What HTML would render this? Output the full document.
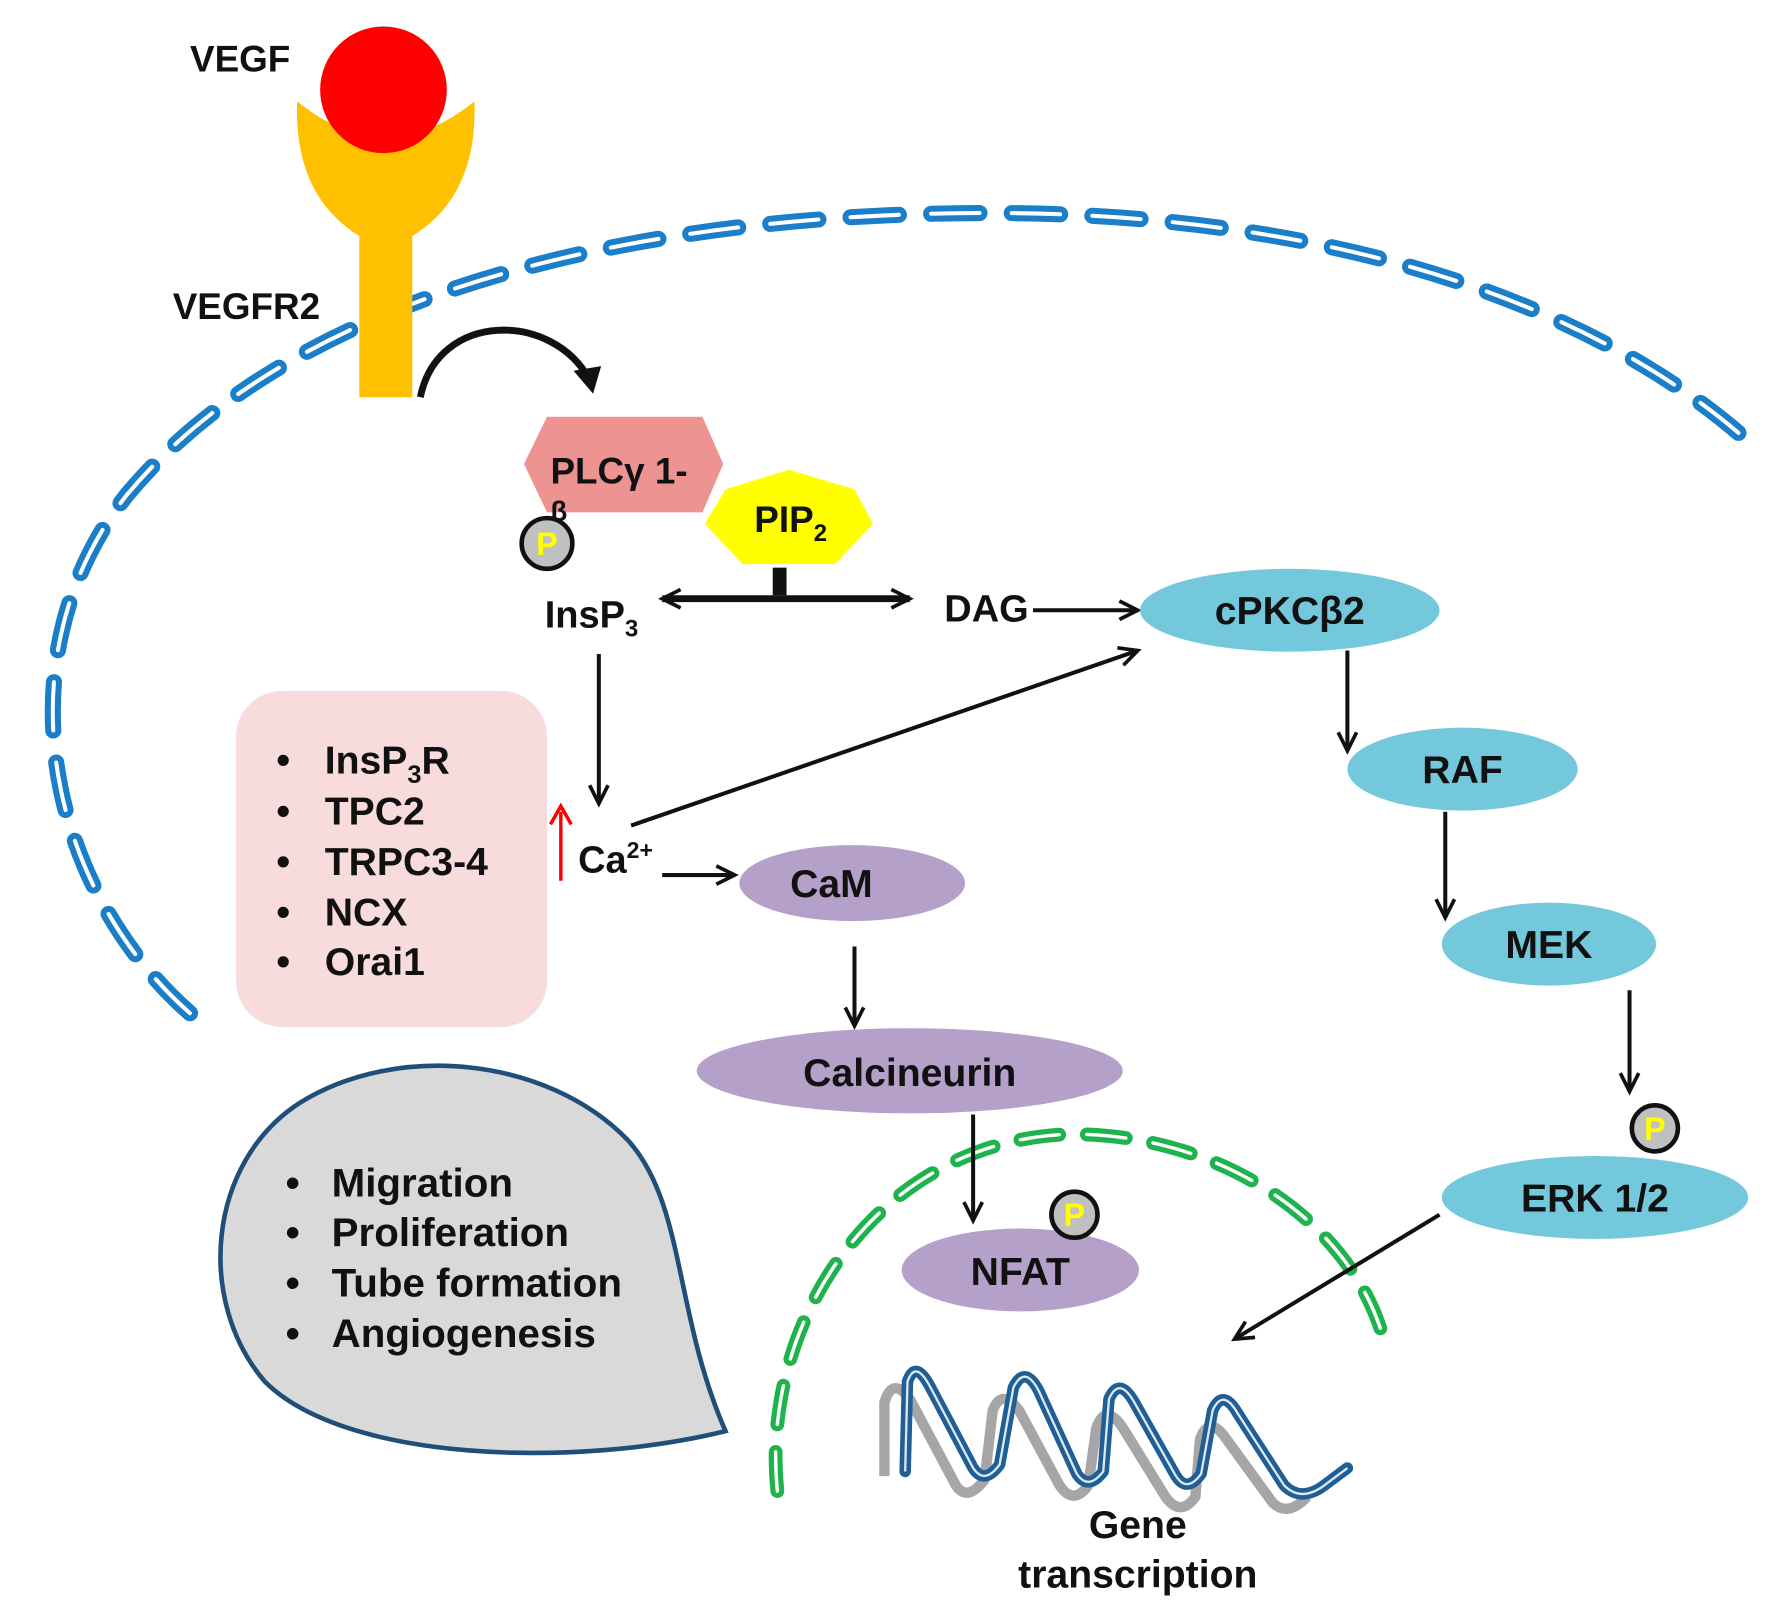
<!DOCTYPE html>
<html><head><meta charset="utf-8"><style>
html,body{margin:0;padding:0;background:#fff}
svg{display:block}
text{font-family:"Liberation Sans",Arial,sans-serif;font-weight:bold;fill:#111}
</style></head><body>
<svg width="1785" height="1620" viewBox="0 0 1550 1407" preserveAspectRatio="none" xmlns="http://www.w3.org/2000/svg">
<defs>
<marker id="ah" viewBox="0 0 10 10" refX="9" refY="5" markerWidth="20" markerHeight="20" orient="auto-start-reverse" markerUnits="userSpaceOnUse" style="overflow:visible">
<path d="M1,1 L9,5 L1,9" fill="none" stroke="#111" stroke-width="1.6"/>
</marker>
</defs>
<rect width="1550" height="1407" fill="#fff"/>
<path d="M165,880 C40,770 0,570 110,430 C260,250 560,185 860,185 C1150,185 1380,260 1520,385" fill="none" stroke="#1a7fc8" stroke-width="14" stroke-dasharray="42 28" stroke-linecap="round"/>
<path d="M165,880 C40,770 0,570 110,430 C260,250 560,185 860,185 C1150,185 1380,260 1520,385" fill="none" stroke="#fff" stroke-width="3.5" stroke-dasharray="42 28" stroke-linecap="round"/>
<path d="M258,88 Q335,150 412,88 Q415,170 358,205 L358,345 L312,345 L312,205 Q255,170 258,88 Z" fill="#ffc000"/>
<circle cx="333" cy="78" r="55" fill="#ff0000"/>
<text x="165" y="62" font-size="32">VEGF</text>
<text x="150" y="277" font-size="32">VEGFR2</text>
<path d="M365,345 C380,270 480,270 512,330" fill="none" stroke="#111" stroke-width="6"/>
<path d="M498,322 L515,342 L522,318 Z" fill="#111"/>
<polygon points="455,403 475,362 610,362 628,403 610,445 475,445" fill="#ed9391"/>
<text x="478" y="420" font-size="32">PLCγ 1-</text>
<text x="478" y="452" font-size="24">β</text>
<circle cx="475" cy="472" r="22" fill="#c0c0c0" stroke="#111" stroke-width="4"/>
<text x="475" y="482" font-size="28" text-anchor="middle" style="fill:#ffff00">P</text>
<polygon points="685,408 742,425 758,455 725,490 645,490 612,455 630,425" fill="#ffff00"/>
<text x="655" y="462" font-size="32">PIP<tspan font-size="21" dy="8">2</tspan></text>
<rect x="671" y="493" width="12" height="24" fill="#111"/>
<line x1="575" y1="520" x2="790" y2="520" stroke="#111" stroke-width="6" marker-start="url(#ah)" marker-end="url(#ah)"/>
<text x="473" y="545" font-size="33">InsP<tspan font-size="21" dy="8">3</tspan></text>
<text x="820" y="540" font-size="33">DAG</text>
<line x1="897" y1="530" x2="988" y2="530" stroke="#111" stroke-width="3.5" marker-end="url(#ah)"/>
<ellipse cx="1120" cy="530" rx="130" ry="36" fill="#74c8dc"/>
<text x="1120" y="542" font-size="34" text-anchor="middle">cPKCβ2</text>
<line x1="1170" y1="565" x2="1170" y2="652" stroke="#111" stroke-width="3.5" marker-end="url(#ah)"/>
<ellipse cx="1270" cy="668" rx="100" ry="36" fill="#74c8dc"/>
<text x="1270" y="680" font-size="34" text-anchor="middle">RAF</text>
<line x1="1255" y1="705" x2="1255" y2="797" stroke="#111" stroke-width="3.5" marker-end="url(#ah)"/>
<ellipse cx="1345" cy="820" rx="93" ry="36" fill="#74c8dc"/>
<text x="1345" y="832" font-size="34" text-anchor="middle">MEK</text>
<line x1="1415" y1="860" x2="1415" y2="948" stroke="#111" stroke-width="3.5" marker-end="url(#ah)"/>
<ellipse cx="1385" cy="1040" rx="133" ry="36" fill="#74c8dc"/>
<text x="1385" y="1052" font-size="34" text-anchor="middle">ERK 1/2</text>
<circle cx="1437" cy="980" r="20" fill="#c0c0c0" stroke="#111" stroke-width="4"/>
<text x="1437" y="990" font-size="28" text-anchor="middle" style="fill:#ffff00">P</text>
<line x1="520" y1="568" x2="520" y2="698" stroke="#111" stroke-width="3.5" marker-end="url(#ah)"/>
<rect x="205" y="600" width="270" height="292" rx="40" fill="#f8dbdb"/>
<g font-size="34">
<text x="240" y="672">•</text><text x="282" y="672">InsP<tspan font-size="22" dy="8">3</tspan><tspan dy="-8">R</tspan></text>
<text x="240" y="716">•</text><text x="282" y="716">TPC2</text>
<text x="240" y="760">•</text><text x="282" y="760">TRPC3-4</text>
<text x="240" y="804">•</text><text x="282" y="804">NCX</text>
<text x="240" y="847">•</text><text x="282" y="847">Orai1</text>
</g>
<line x1="487" y1="765" x2="487" y2="705" stroke="#ff0000" stroke-width="3"/>
<path d="M478,716 L487,700 L496,716" fill="none" stroke="#ff0000" stroke-width="3"/>
<text x="502" y="758" font-size="33">Ca<tspan font-size="20" dy="-13">2+</tspan></text>
<line x1="548" y1="717" x2="988" y2="565" stroke="#111" stroke-width="3.5" marker-end="url(#ah)"/>
<line x1="575" y1="760" x2="638" y2="760" stroke="#111" stroke-width="3.5" marker-end="url(#ah)"/>
<ellipse cx="740" cy="767" rx="98" ry="33" fill="#b5a0c9"/>
<text x="722" y="779" font-size="34" text-anchor="middle">CaM</text>
<line x1="742" y1="822" x2="742" y2="891" stroke="#111" stroke-width="3.5" marker-end="url(#ah)"/>
<ellipse cx="790" cy="930" rx="185" ry="37" fill="#b5a0c9"/>
<text x="790" y="943" font-size="34" text-anchor="middle">Calcineurin</text>
<path d="M675,1295 C660,1150 760,990 930,985 C1060,985 1170,1060 1200,1158" fill="none" stroke="#1fb34d" stroke-width="12" stroke-dasharray="34 24" stroke-linecap="round"/>
<path d="M675,1295 C660,1150 760,990 930,985 C1060,985 1170,1060 1200,1158" fill="none" stroke="#fff" stroke-width="3" stroke-dasharray="34 24" stroke-linecap="round"/>
<line x1="845" y1="968" x2="845" y2="1060" stroke="#111" stroke-width="3.5" marker-end="url(#ah)"/>
<ellipse cx="886" cy="1103" rx="103" ry="36" fill="#b5a0c9"/>
<text x="886" y="1116" font-size="34" text-anchor="middle">NFAT</text>
<circle cx="933" cy="1055" r="20" fill="#c0c0c0" stroke="#111" stroke-width="4"/>
<text x="933" y="1065" font-size="28" text-anchor="middle" style="fill:#ffff00">P</text>
<line x1="1250" y1="1055" x2="1072" y2="1163" stroke="#111" stroke-width="3.5" marker-end="url(#ah)"/>
<path d="M630,1243 C500,1275 300,1270 230,1200 C170,1130 180,1010 260,958 C345,905 475,918 545,990 C595,1045 585,1140 630,1243 Z" fill="#d9d9d9" stroke="#1f4e79" stroke-width="4"/>
<g font-size="35">
<text x="248" y="1039">•</text><text x="288" y="1039">Migration</text>
<text x="248" y="1082">•</text><text x="288" y="1082">Proliferation</text>
<text x="248" y="1126">•</text><text x="288" y="1126">Tube formation</text>
<text x="248" y="1170">•</text><text x="288" y="1170">Angiogenesis</text>
</g>
<path d="M768,1282 L768,1218 Q775,1195 790,1215 L830,1290 Q840,1305 855,1285 L862,1225 Q870,1205 885,1225 L920,1290 Q932,1308 945,1290 L952,1240 Q960,1218 975,1240 L1012,1300 Q1025,1318 1038,1300 L1042,1250 Q1050,1228 1065,1250 L1105,1305 Q1118,1318 1135,1300" fill="none" stroke="#a6a6a6" stroke-width="9" stroke-linejoin="round"/>
<path d="M786,1278 L788,1200 Q795,1180 808,1205 L845,1275 Q855,1290 868,1272 L880,1205 Q890,1185 902,1208 L935,1280 Q945,1295 958,1278 L963,1215 Q972,1195 985,1218 L1020,1280 Q1030,1298 1043,1280 L1053,1225 Q1062,1205 1075,1228 L1115,1290 Q1130,1305 1150,1290 L1170,1275" fill="none" stroke="#1f5f96" stroke-width="10" stroke-linejoin="round" stroke-linecap="round"/>
<path d="M786,1278 L788,1200 Q795,1180 808,1205 L845,1275 Q855,1290 868,1272 L880,1205 Q890,1185 902,1208 L935,1280 Q945,1295 958,1278 L963,1215 Q972,1195 985,1218 L1020,1280 Q1030,1298 1043,1280 L1053,1225 Q1062,1205 1075,1228 L1115,1290 Q1130,1305 1150,1290 L1170,1275" fill="none" stroke="#dde8f3" stroke-width="2" stroke-linejoin="round"/>
<text x="988" y="1336" font-size="34" text-anchor="middle">Gene</text>
<text x="988" y="1379" font-size="34" text-anchor="middle">transcription</text>
</svg>
</body></html>
